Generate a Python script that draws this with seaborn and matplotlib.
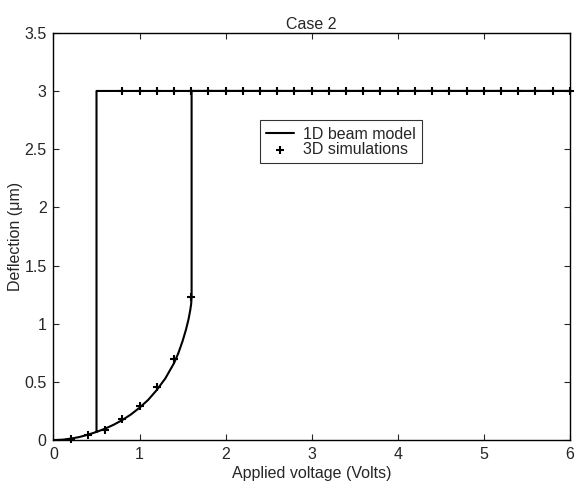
import pandas as pd
import matplotlib.pyplot as plt
import seaborn as sns
from matplotlib.ticker import FormatStrFormatter

# 1D beam model: loading branch (pull-in at ~1.6 V), then stuck at 3 um
curve_x = [0, 0.1, 0.2, 0.3, 0.4, 0.5, 0.6, 0.7, 0.8, 0.9, 1.0, 1.1, 1.2, 1.3, 1.4, 1.45, 1.5, 1.54, 1.57, 1.59, 1.60, 1.605]
curve_y = [0, 0.003, 0.012, 0.026, 0.046, 0.07, 0.098, 0.132, 0.172, 0.22, 0.278, 0.345, 0.43, 0.53, 0.66, 0.745, 0.85, 0.95, 1.04, 1.12, 1.17, 1.23]
pullin_v = 1.605
release_v = 0.5
release_y = 0.07
stuck_y = 3.0
v_max = 6.0

# 3D simulations
sim_x = [0.2, 0.4, 0.6, 0.8, 1.0, 1.2, 1.4, 1.6,
         0.8, 1.0, 1.2, 1.4, 1.6, 1.8, 2.0, 2.2, 2.4, 2.6, 2.8, 3.0, 3.2, 3.4, 3.6,
         3.8, 4.0, 4.2, 4.4, 4.6, 4.8, 5.0, 5.2, 5.4, 5.6, 5.8, 6.0]
sim_y = [0.01, 0.04, 0.09, 0.18, 0.295, 0.46, 0.70, 1.23] + [3.0] * 27

path_x = curve_x + [pullin_v, v_max, release_v, release_v]
path_y = curve_y + [stuck_y, stuck_y, stuck_y, release_y]
beam = pd.DataFrame({"x": path_x, "y": path_y})
sims = pd.DataFrame({"x": sim_x, "y": sim_y})

sns.set_style("ticks")
plt.rcParams["font.family"] = ["Liberation Sans", "DejaVu Sans"]
fs = 11.5

fig = plt.figure(figsize=(5.75, 4.82), dpi=100)
ax = fig.add_axes([0.093, 0.087, 0.898, 0.845])

sns.lineplot(data=beam, x="x", y="y", sort=False, estimator=None, color="black",
             linewidth=1.5, ax=ax, label="1D beam model")
sns.scatterplot(data=sims, x="x", y="y", marker="+", s=40, color="black",
                linewidth=1.5, ax=ax, label="3D simulations", zorder=3, clip_on=False)

ax.set_xlim(0, 6)
ax.set_ylim(0, 3.5)
ax.set_xticks(range(0, 7))
ax.set_yticks([0, 0.5, 1, 1.5, 2, 2.5, 3, 3.5])
ax.yaxis.set_major_formatter(FormatStrFormatter("%g"))
ax.tick_params(direction="in", top=True, right=True, labelsize=fs, length=4, width=0.8, pad=5)
for s in ax.spines.values():
    s.set_visible(True)
    s.set_linewidth(1.0)
    s.set_color("black")

ax.set_xlabel("Applied voltage (Volts)", fontsize=fs, labelpad=3)
ax.set_ylabel("Deflection (\u03bcm)", fontsize=fs, labelpad=1)
ax.set_title("Case 2", fontsize=fs, pad=3)

leg = ax.legend(loc="upper left", bbox_to_anchor=(0.40, 0.785), frameon=True,
                fancybox=False, edgecolor="black", fontsize=fs, borderpad=0.4,
                handlelength=1.7, handletextpad=0.6, labelspacing=0.0,
                borderaxespad=0)
leg.get_frame().set_linewidth(0.8)

fig.savefig("out.png", dpi=100)
